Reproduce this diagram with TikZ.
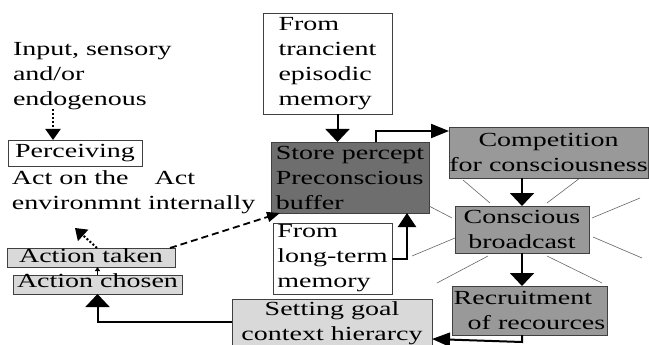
\documentclass[tikz,border=0pt]{standalone}
\usepackage{fontspec}
\setmainfont{Liberation Serif}[FakeStretch=1.4]
\usetikzlibrary{arrows.meta}
\begin{document}
\begin{tikzpicture}[x=1pt,y=-1pt,
  every node/.style={font=\fontsize{20}{25}\selectfont, inner sep=0pt, outer sep=0pt},
  box/.style={draw=black!75, line width=0.7pt, anchor=north west},
  whitebox/.style={box, fill=white},
  darkbox/.style={box, fill=black!57},
  midbox/.style={box, fill=black!40},
  lightbox/.style={box, fill=black!15},
  ray/.style={draw=black!60, line width=0.6pt},
  arrowbig/.style={line width=2pt, -{Triangle[width=24pt,length=13pt]}},
  arrowslim/.style={line width=2pt, -{Triangle[width=14pt,length=18pt]}},
  arrowmid/.style={line width=2pt, -{Triangle[width=18pt,length=14pt]}},
  arrowtiny/.style={line width=0.8pt, -{Triangle[width=5pt,length=4pt]}},
  dotarrow/.style={line width=2pt, dash pattern=on 2pt off 2pt, -{Triangle[width=15pt,length=11pt]}},
  dasharrow/.style={line width=1.8pt, dash pattern=on 7pt off 4pt, -{Triangle[width=10pt,length=13pt]}}
]
\useasboundingbox (0,0) rectangle (649,345);

% spotlight rays
\draw[ray] (463,180) -- (490,203);
\draw[ray] (547,203) -- (580,178);
\draw[ray] (429,206) -- (452,218);
\draw[ray] (412,256) -- (455,238);
\draw[ray] (592,218) -- (640,198);
\draw[ray] (593,237) -- (642,258);
\draw[ray] (437,283) -- (488,256);
\draw[ray] (547,256) -- (602,283);

% boxes
\node[whitebox, minimum width=129pt, minimum height=101pt, align=left] (epi) at (263,13) {From\\trancient\\episodic\\memory};
\node[darkbox, minimum width=158pt, minimum height=71pt, align=left] (store) at (271,142) {Store percept\\Preconscious\\buffer};
\node[whitebox, minimum width=119pt, minimum height=71pt, align=left] (lt) at (273,223) {From\\long-term\\memory};
\node[midbox, minimum width=199pt, minimum height=51pt, align=center] (comp) at (449,127) {Competition\\for consciousness};
\node[midbox, minimum width=134pt, minimum height=47pt, align=center] (bc) at (455,206) {Conscious\\broadcast};
\node[midbox, minimum width=155pt, minimum height=49pt, align=left] (rec) at (452,286) {Recruitment\\\hspace*{14pt}of recources};
\node[lightbox, minimum width=200pt, minimum height=48pt, align=center] (sg) at (232,299) {Setting goal\\context hierarcy};
\node[whitebox, minimum width=134pt, minimum height=26pt] (perc) at (8,140) {Perceiving};
\node[lightbox, minimum width=168pt, text height=14pt, text depth=5pt] (taken) at (7,248) {Action taken};
\node[lightbox, minimum width=169pt, text height=12pt, text depth=7pt] (chosen) at (13,275) {Action chosen};

% free texts
\node[anchor=north west, align=left] (inp) at (13,42) {Input, sensory\\and/or\\endogenous};
\node[anchor=north west, align=left] (act) at (12,171) {Act on the\hspace{26pt}Act\\environmnt internally};
\coordinate (acttip) at (75,228);

% connectors
\draw[arrowbig] ([xshift=10pt]epi.south) -- ([xshift=10pt]epi.south |- store.north);
\draw[arrowslim] ([xshift=105pt]store.north west) |- ([yshift=-4pt]comp.north west);
\draw[arrowbig] (comp.south -| bc.north) -- (bc.north);
\draw[arrowbig] (bc.south) -- (bc.south |- rec.north);
\draw[arrowslim] (bc.south |- rec.south) -- ++(0,7) -- ([yshift=-16pt]sg.east);
\draw[arrowbig] ([yshift=1pt]sg.west) -| (chosen.south);
\draw[arrowtiny] (chosen.north) -- (chosen.north |- taken.south);
\draw[arrowmid] (lt.east) -| ([xshift=-22pt]store.south east);
\draw[dotarrow] ([xshift=40pt]inp.south west) -- ([xshift=40pt]inp.south west |- perc.north);
\draw[dotarrow] ([xshift=6pt]taken.north) -- (acttip);
\draw[dasharrow] ([xshift=-5pt]taken.north east) -- ([xshift=9pt]store.south west);
\end{tikzpicture}
\end{document}
